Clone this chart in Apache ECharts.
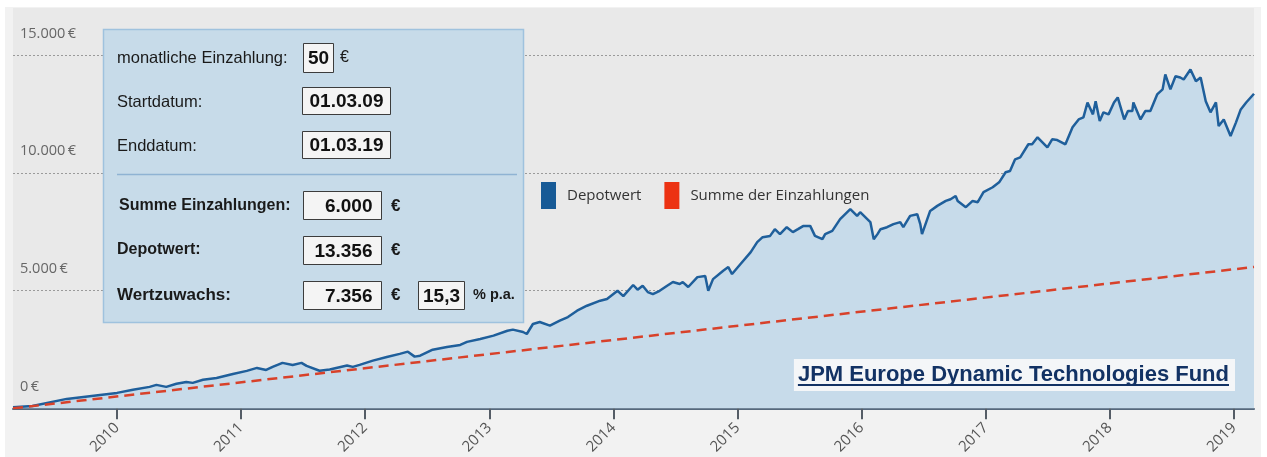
<!DOCTYPE html>
<html>
<head>
<meta charset="utf-8">
<script src="https://cdn.jsdelivr.net/npm/echarts@6/dist/echarts.min.js"></script>
<style>
  html, body { margin: 0; padding: 0; background: #fff; }
  #chart { width: 1267px; height: 457px; }
</style>
</head>
<body>
<div id="chart"></div>
<script>
// Depotwert
var depotDates = [
  '2009-03-01','2009-04-27','2009-08-06','2009-11-12','2010-01-01','2010-02-17','2010-04-07','2010-04-27',
  '2010-05-26','2010-06-25','2010-07-24','2010-08-12','2010-09-11','2010-10-21','2010-12-08','2011-01-18',
  '2011-02-17','2011-03-16','2011-04-04','2011-05-03','2011-06-02','2011-06-28','2011-07-13','2011-08-20',
  '2011-09-19','2011-11-09','2011-11-26','2011-12-16','2012-01-24','2012-03-05','2012-04-12','2012-05-06',
  '2012-05-26','2012-06-11','2012-07-18','2012-08-29','2012-10-07','2012-10-27','2012-12-05','2013-01-13',
  '2013-02-23','2013-03-11','2013-04-10','2013-04-21','2013-05-09','2013-05-29','2013-06-28','2013-07-27',
  '2013-08-20','2013-09-16','2013-10-15','2013-11-23','2013-12-13','2014-01-13','2014-01-30','2014-02-28',
  '2014-03-13','2014-03-28','2014-04-12','2014-04-27','2014-05-17','2014-06-08','2014-06-25','2014-07-15',
  '2014-07-24','2014-08-09','2014-09-05','2014-09-28','2014-10-07','2014-10-21','2014-11-20','2014-12-05',
  '2014-12-16','2015-01-10','2015-02-09','2015-02-28','2015-03-16','2015-04-07','2015-04-21','2015-05-06',
  '2015-05-26','2015-06-13','2015-06-28','2015-07-13','2015-08-03','2015-08-17','2015-09-08','2015-09-16',
  '2015-10-07','2015-10-30','2015-11-29','2015-12-19','2015-12-28','2016-01-27','2016-02-06','2016-02-17',
  '2016-02-26','2016-03-16','2016-04-04','2016-04-24','2016-05-03','2016-05-23','2016-06-13','2016-06-22',
  '2016-06-27','2016-07-21','2016-08-11','2016-09-05','2016-09-19','2016-10-04','2016-10-10','2016-11-03',
  '2016-11-23','2016-12-08','2016-12-25','2017-01-21','2017-02-09','2017-02-28','2017-03-13','2017-03-28',
  '2017-04-12','2017-05-06','2017-05-17','2017-06-02','2017-07-01','2017-07-15','2017-07-30','2017-08-23',
  '2017-09-13','2017-10-01','2017-10-15','2017-10-27','2017-11-12','2017-11-20','2017-12-02','2017-12-13',
  '2017-12-28','2018-01-13','2018-01-24','2018-02-12','2018-02-23','2018-03-08','2018-03-11','2018-04-01',
  '2018-04-15','2018-04-30','2018-05-20','2018-06-05','2018-06-13','2018-06-28','2018-07-13','2018-07-27',
  '2018-08-06','2018-08-26','2018-09-11','2018-09-25','2018-10-10','2018-10-24','2018-11-09','2018-11-17',
  '2018-12-02','2018-12-22','2019-01-07','2019-01-21','2019-02-06','2019-03-01'
];
var depotValues = [
  50, 95, 400, 570, 655, 785, 910, 995,
  910, 1040, 1120, 1080, 1210, 1290, 1460, 1590,
  1715, 1630, 1760, 1930, 1840, 1930, 1800, 1595,
  1650, 1815, 1760, 1845, 2025, 2180, 2310, 2405,
  2195, 2235, 2490, 2605, 2690, 2820, 2945, 3085,
  3295, 3340, 3240, 3155, 3580, 3665, 3510, 3720,
  3875, 4145, 4355, 4570, 4640, 4990, 4765, 5235,
  5035, 5205, 4935, 4850, 4990, 5205, 5360, 5275,
  5360, 5150, 5570, 5615, 4990, 5485, 5840, 5995,
  5700, 6125, 6630, 7055, 7265, 7320, 7605, 7395,
  7690, 7480, 7605, 7735, 7745, 7320, 7180, 7395,
  7535, 8030, 8455, 8170, 8325, 7905, 7180, 7395,
  7605, 7690, 7820, 7905, 7690, 8170, 8240, 7820,
  7395, 8380, 8595, 8805, 8875, 9015, 8805, 8540,
  8805, 8750, 9175, 9385, 9595, 10020, 10075, 10570,
  10655, 11210, 11210, 11505, 11080, 11420, 11390, 11210,
  11930, 12265, 12350, 12985, 12480, 13040, 12195, 12565,
  12480, 12985, 13200, 12265, 12620, 12620, 12985, 12265,
  12620, 12620, 13325, 13540, 14175, 13540, 14100, 14045,
  13960, 14385, 13890, 14045, 13040, 12565, 12985, 11985,
  12265, 11560, 12140, 12690, 12985, 13356
];
// Summe der Einzahlungen (50 € monatlich)
var einzDates = ['2009-03-01', '2019-03-01'];
var einzValues = [0, 6000];

var yearTicks = ['2010','2011','2012','2013','2014','2015','2016','2017','2018','2019'];
var yMax = 15000, yStep = 5000;

function euro(v) {
  return String(v).replace(/\B(?=(\d{3})+(?!\d))/g, '.') + '\u2009€';
}
function ts(d) { return +new Date(d + 'T00:00:00'); }

var depotData = [], einzData = [];
for (var i = 0; i < depotDates.length; i++) depotData.push([ts(depotDates[i]), depotValues[i]]);
for (var j = 0; j < einzDates.length; j++) einzData.push([ts(einzDates[j]), einzValues[j]]);
var tickStamps = yearTicks.map(function (y) { return ts(y + '-01-01'); });

var chart = echarts.init(document.getElementById('chart'));

// info panel
var boxFont = 'Liberation Sans, Arial, sans-serif';
function label(x, y, text, bold, size) {
  return { type: 'text', z: 101, x: x, y: y,
    style: { text: text, fill: '#1a1a1a', font: (bold ? 'bold ' : '') + (size || 16.5) + 'px ' + boxFont,
      textVerticalAlign: 'middle' } };
}
function field(x, y, w, h, text, align) {
  var els = [{ type: 'rect', z: 101, shape: { x: x, y: y, width: w, height: h },
    style: { fill: '#f4f4f4', stroke: '#3c3c3c', lineWidth: 1 } }];
  els.push({ type: 'text', z: 102, x: align === 'right' ? x + w - 9 : x + w / 2, y: y + h / 2 + 1,
    style: { text: text, fill: '#111', font: 'bold 19px ' + boxFont,
      textAlign: align === 'right' ? 'right' : 'center', textVerticalAlign: 'middle' } });
  return els;
}

var panel = [
  { type: 'rect', z: 100, shape: { x: 103.5, y: 29.5, width: 420, height: 293 },
    style: { fill: '#c7dbe9', stroke: '#9fc2de', lineWidth: 1.5 } },
  label(117, 58, 'monatliche Einzahlung:'),
  label(340, 58, '€', false, 16),
  label(117, 102, 'Startdatum:'),
  label(117, 146, 'Enddatum:'),
  { type: 'line', z: 101, shape: { x1: 117, y1: 174.5, x2: 517, y2: 174.5 },
    style: { stroke: '#8fb3d3', lineWidth: 1.5 } },
  label(119, 206, 'Summe Einzahlungen:', true, 16),
  label(391, 206, '€', true, 17),
  label(117, 250, 'Depotwert:', true, 16),
  label(391, 250, '€', true, 17),
  label(117, 295, 'Wertzuwachs:', true, 17),
  label(391, 295, '€', true, 17),
  label(473, 295, '% p.a.', true, 14.5)
].concat(
  field(303.5, 43.5, 30, 29, '50'),
  field(302.5, 87.5, 88, 27, '01.03.09'),
  field(302.5, 131.5, 88, 27, '01.03.19'),
  field(303.5, 191.5, 78, 28, '6.000', 'right'),
  field(303.5, 236.5, 78, 28, '13.356', 'right'),
  field(303.5, 281.5, 78, 28, '7.356', 'right'),
  field(418.5, 281.5, 46, 28, '15,3')
);

// fund name with underline
var titleText = 'JPM Europe Dynamic Technologies Fund';
var titleFont = 'bold 22px ' + boxFont;
var ctx = document.createElement('canvas').getContext('2d');
ctx.font = titleFont;
var tw = ctx.measureText(titleText).width;
var tx = 1229 - tw;
var title = [
  { type: 'rect', z: 100, shape: { x: tx - 4, y: 359, width: tw + 10, height: 32 },
    style: { fill: '#f4f6f8' } },
  { type: 'text', z: 101, x: tx, y: 375,
    style: { text: titleText, fill: '#123264', font: titleFont, textVerticalAlign: 'middle' } },
  { type: 'line', z: 101, shape: { x1: tx, y1: 385, x2: tx + tw, y2: 385 },
    style: { stroke: '#123264', lineWidth: 2 } }
];

var backgrounds = [
  { type: 'rect', z: -5, shape: { x: 5, y: 7, width: 1256, height: 450 }, style: { fill: '#f2f2f2' } },
  { type: 'rect', z: -4, shape: { x: 13, y: 8, width: 1241, height: 401 }, style: { fill: '#e9e9e9' } }
];

chart.setOption({
  animation: false,
  backgroundColor: '#ffffff',
  grid: { left: 13, right: 13, top: 55, bottom: 48 },
  legend: {
    left: 541, top: 182, padding: 0,
    icon: 'rect', itemWidth: 15, itemHeight: 27, itemGap: 23,
    textStyle: { color: '#333', fontSize: 15, fontFamily: 'Open Sans', padding: [0, 0, 0, 6] },
    data: [
      { name: 'Depotwert', itemStyle: { color: '#175a96' } },
      { name: 'Summe der Einzahlungen', itemStyle: { color: '#ec3212' } }
    ]
  },
  xAxis: {
    type: 'value',
    min: einzData[0][0], max: einzData[einzData.length - 1][0],
    axisLine: { onZero: false, lineStyle: { color: '#56687c', width: 2 } },
    axisTick: { show: true, length: 11, customValues: tickStamps, lineStyle: { color: '#555d66', width: 2 } },
    axisLabel: {
      customValues: tickStamps, rotate: 45, margin: 17,
      color: '#555', fontSize: 15, fontFamily: 'Open Sans',
      formatter: function (v) { return String(new Date(v).getFullYear()); }
    },
    splitLine: { show: false }
  },
  yAxis: {
    type: 'value', min: 0, max: yMax, interval: yStep,
    axisLine: { show: false }, axisTick: { show: false },
    axisLabel: {
      inside: true, margin: 7, verticalAlign: 'bottom', padding: [0, 0, 14, 0],
      color: '#666', fontSize: 14.5, fontFamily: 'Open Sans',
      formatter: euro
    },
    splitLine: { lineStyle: { color: '#9a9a9a', type: [2, 2], width: 1 } }
  },
  series: [
    {
      name: 'Depotwert', type: 'line', data: depotData, showSymbol: false, z: 2,
      lineStyle: { color: '#1f5f9b', width: 2.5 },
      itemStyle: { color: '#175a96' },
      areaStyle: { color: '#c7dbea', opacity: 1 }
    },
    {
      name: 'Summe der Einzahlungen', type: 'line', data: einzData, showSymbol: false, z: 3,
      lineStyle: { color: '#d8412a', width: 2.5, type: [10, 6] },
      itemStyle: { color: '#ec3212' }
    }
  ],
  graphic: { elements: backgrounds.concat(panel, title) }
});
</script>
</body>
</html>
